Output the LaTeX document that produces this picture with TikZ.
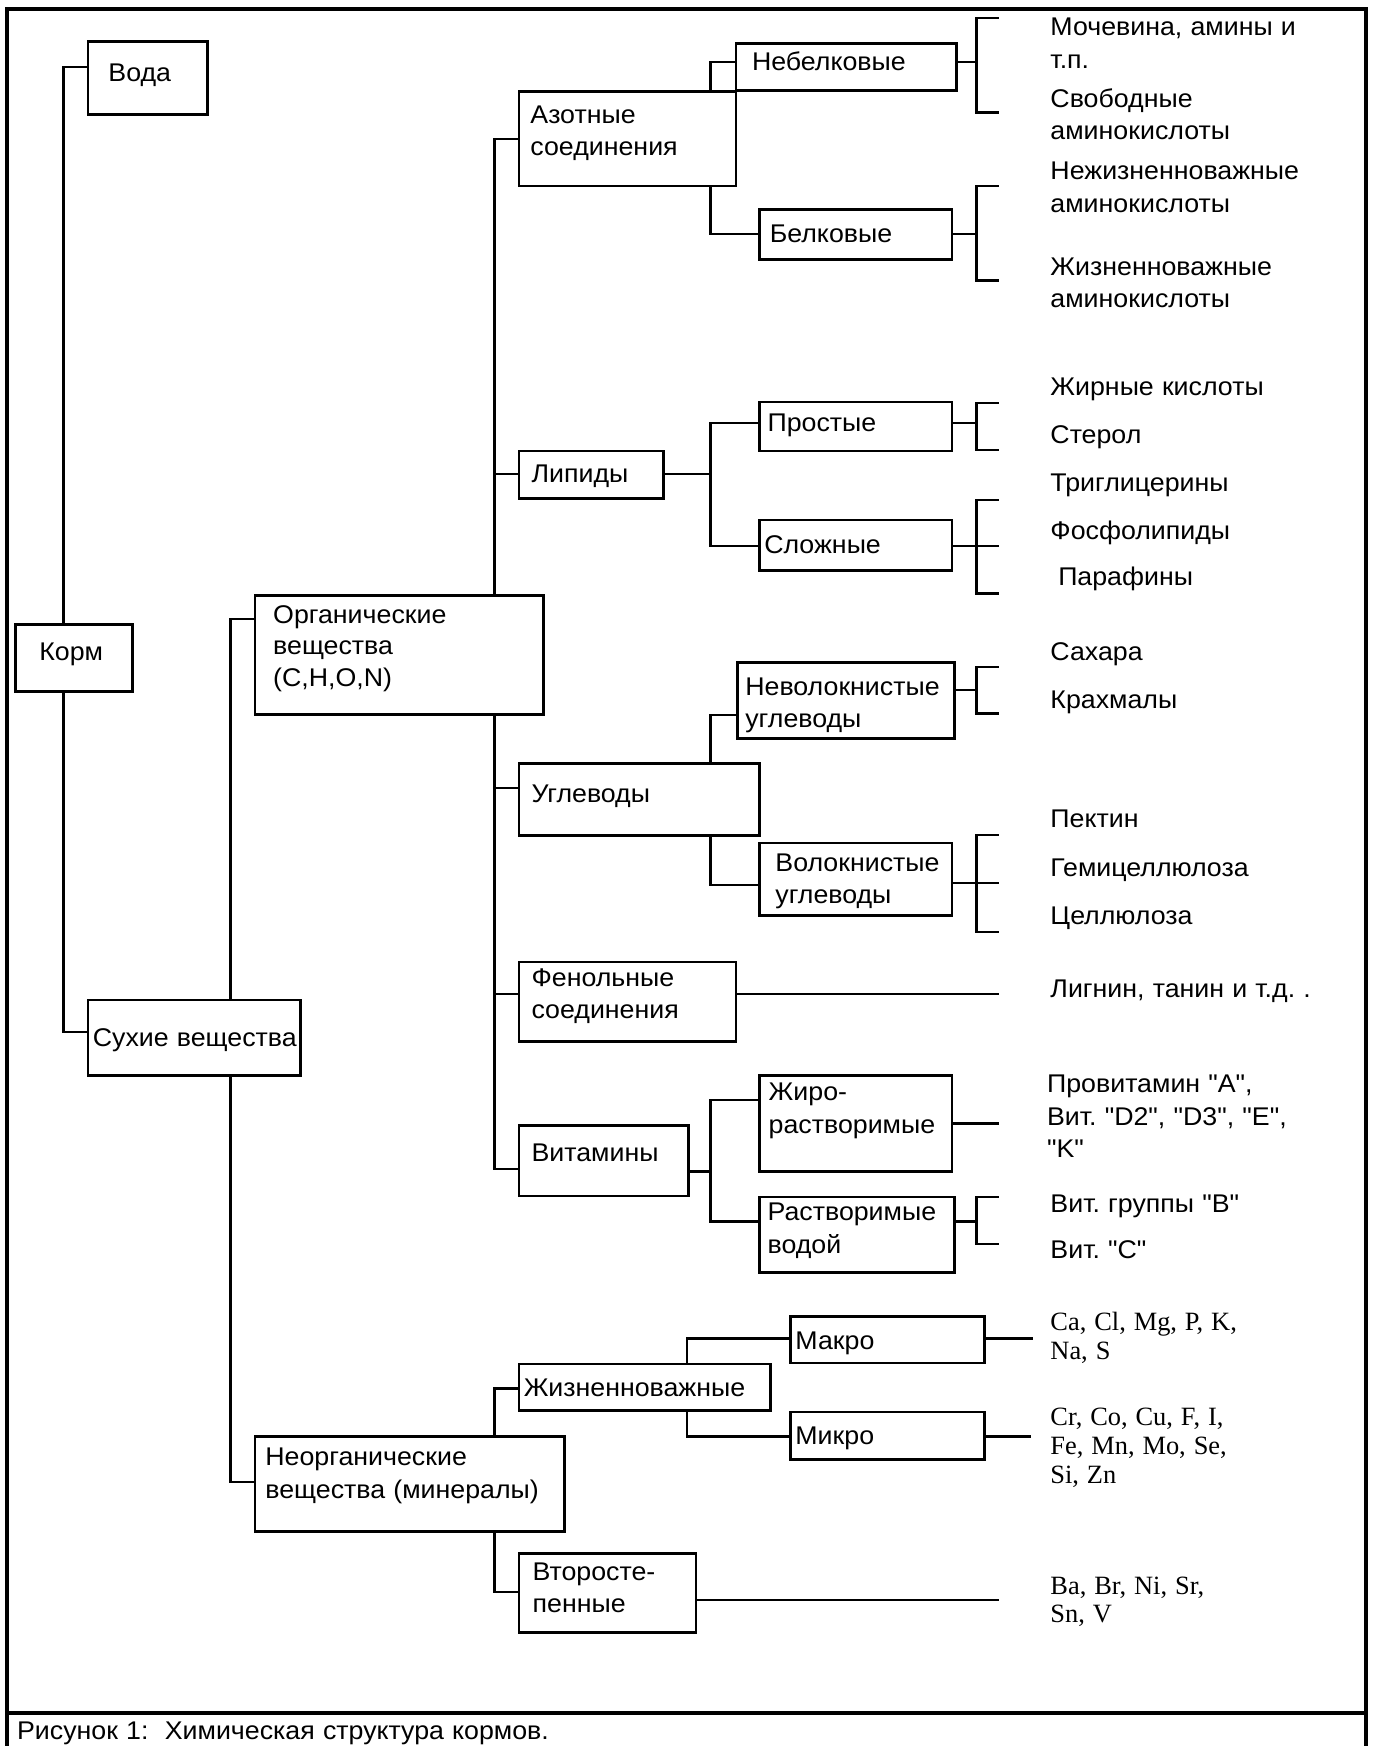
\documentclass[tikz,border=0pt]{standalone}
\usepackage{fontspec}
\setmainfont{Liberation Sans}[FakeStretch=1.045, WordSpace=1.1, Ligatures=TeXOff]
\newfontfamily\tmsfont{Liberation Serif}[WordSpace=1.2]
\usetikzlibrary{fit}
\frenchspacing
\newcommand\q{"}
\tikzset{
  x=0.55675pt, y=-0.55675pt,
  boxst/.style={draw, line width=1.4pt, inner sep=0pt},
  conn/.style={line width=1.1pt},
  brk/.style={line width=1.3pt},
  txt/.style={anchor=base west, inner sep=0pt, font=\frenchspacing\fontsize{12.8}{15}\selectfont},
  tmt/.style={anchor=base west, inner sep=0pt, font=\frenchspacing\tmsfont\fontsize{13.2}{15}\selectfont},
}
\newcommand\bx[5]{\node[boxst, fit={(#2,#3) (#4,#5)}] (#1) {};}
\newcommand\tx[4]{\node[txt] (#1) at (#2,#3+7.5) {#4};}
\newcommand\tm[4]{\node[tmt] (#1) at (#2,#3+6.5) {#4};}
\newcommand\bracketto[5]{%
  \draw[conn] (#1.east |- 0,#2) -- (#5,#2);
  \draw[brk] (897,#3) -- (877,#3) -- (877,#4) -- (897,#4);}
\begin{document}
\begin{tikzpicture}
\useasboundingbox (0,0) rectangle (1233,1568);
% frame
\draw[line width=1.6pt] (6.3,8.1) rectangle (1226.8,1590);
\draw[line width=1.6pt] (6.3,1538.4) -- (1226.8,1538.4);
\node[txt] (cap) at (15,1562) {Рисунок 1:\ \ Химическая структура кормов.};

% bus coordinates
\coordinate (busK) at (57,0);
\coordinate (busS) at (207,0);
\coordinate (busO) at (444,0);
\coordinate (busA) at (638,0);
\coordinate (busI) at (617,0);

% boxes
\bx{voda}{79}{37}{186}{103}
\bx{korm}{14}{561}{119}{621}
\bx{sux}{79}{898}{270}{966}
\bx{org}{229}{535}{488}{642}
\bx{neorg}{229}{1290}{507}{1375}
\bx{azot}{466}{82}{661}{167}
\bx{lip}{466}{405}{596}{448}
\bx{ugl}{466}{686}{682}{750}
\bx{fen}{466}{864}{661}{935}
\bx{vit}{466}{1011}{618}{1074}
\bx{nebel}{661}{39}{859}{81}
\bx{bel}{682}{188}{855}{233}
\bx{prost}{682}{361}{855}{405}
\bx{slozh}{682}{467}{855}{512}
\bx{nevol}{662}{595}{857}{663}
\bx{vol}{682}{757}{855}{822}
\bx{zhiro}{682}{966}{855}{1052}
\bx{rastv}{682}{1075}{857}{1143}
\bx{zhizn}{466}{1225}{692}{1267}
\bx{vtor}{466}{1395}{625}{1466}
\bx{makro}{710}{1182}{884}{1224}
\bx{mikro}{710}{1268}{884}{1311}

% box texts
\tx{tvoda}{97}{66}{Вода}
\tx{tkorm}{35}{586}{Корм}
\tx{tsux}{83}{932}{Сухие вещества}
\tx{torg1}{245}{552}{Органические}
\tx{torg2}{245}{580}{вещества}
\tx{torg3}{245}{609}{(C,H,O,N)}
\tx{tneorg1}{238}{1309}{Неорганические}
\tx{tneorg2}{238}{1338}{вещества (минералы)}
\tx{tazot1}{476}{103}{Азотные}
\tx{tazot2}{476}{132}{соединения}
\tx{tlip}{477}{426}{Липиды}
\tx{tugl}{477}{713}{Углеводы}
\tx{tfen1}{477}{878}{Фенольные}
\tx{tfen2}{477}{907}{соединения}
\tx{tvit}{477}{1036}{Витамины}
\tx{tnebel}{675}{56}{Небелковые}
\tx{tbel}{691}{210}{Белковые}
\tx{tprost}{689}{380}{Простые}
\tx{tslozh}{686}{490}{Сложные}
\tx{tnevol1}{669}{617}{Неволокнистые}
\tx{tnevol2}{669}{646}{углеводы}
\tx{tvol1}{696}{775}{Волокнистые}
\tx{tvol2}{696}{804}{углеводы}
\tx{tzhiro1}{690}{981}{Жиро-}
\tx{tzhiro2}{690}{1010}{растворимые}
\tx{trastv1}{689}{1089}{Растворимые}
\tx{trastv2}{689}{1118}{водой}
\tx{tzhizn}{470}{1247}{Жизненноважные}
\tx{tvtor1}{478}{1412}{Второсте-}
\tx{tvtor2}{478}{1441}{пенные}
\tx{tmakro}{714}{1204}{Макро}
\tx{tmikro}{714}{1290}{Микро}

% leaf texts
\tx{l1}{943}{24}{Мочевина, амины и}
\tx{l2}{943}{54}{т.п.}
\tx{l3}{943}{89}{Свободные}
\tx{l4}{943}{118}{аминокислоты}
\tx{l5}{943}{154}{Нежизненноважные}
\tx{l6}{943}{183}{аминокислоты}
\tx{l7}{943}{240}{Жизненноважные}
\tx{l8}{943}{269}{аминокислоты}
\tx{l9}{943}{348}{Жирные кислоты}
\tx{l10}{943}{391}{Стерол}
\tx{l11}{943}{434}{Триглицерины}
\tx{l12}{943}{477}{Фосфолипиды}
\tx{l13}{950}{518}{Парафины}
\tx{l14}{943}{586}{Сахара}
\tx{l15}{943}{629}{Крахмалы}
\tx{l16}{943}{736}{Пектин}
\tx{l17}{943}{780}{Гемицеллюлоза}
\tx{l18}{943}{823}{Целлюлоза}
\tx{l19}{943}{888}{Лигнин, танин и т.д. .}
\tx{l20}{940}{974}{Провитамин \q A\q,}
\tx{l21}{940}{1003}{Вит. \q D2\q, \q D3\q, \q E\q,}
\tx{l22}{940}{1032}{\q K\q}
\tx{l23}{943}{1081}{Вит. группы \q B\q}
\tx{l24}{943}{1123}{Вит. \q C\q}
\tm{m1}{943}{1188}{Ca, Cl, Mg, P, K,}
\tm{m2}{943}{1214}{Na, S}
\tm{m3}{943}{1274}{Cr, Co, Cu, F, I,}
\tm{m4}{943}{1300}{Fe, Mn, Mo, Se,}
\tm{m5}{943}{1326}{Si, Zn}
\tm{m6}{943}{1425}{Ba, Br, Ni, Sr,}
\tm{m7}{943}{1451}{Sn, V}

% connectors: main tree
\draw[conn] (voda.west |- 0,60) -| (korm.north -| busK);
\draw[conn] (korm.south -| busK) |- (sux.west |- 0,927);
\draw[conn] (sux.north -| busS) |- (org.west |- 0,556);
\draw[conn] (sux.south -| busS) |- (neorg.west |- 0,1331);
% organic trunk
\draw[conn] (org.north -| busO) |- (azot.west |- 0,125);
\draw[conn] (org.south -| busO) |- (vit.west |- 0,1050);
\draw[conn] (busO |- 0,426) -- (lip.west |- 0,426);
\draw[conn] (busO |- 0,708) -- (ugl.west |- 0,708);
\draw[conn] (busO |- 0,893) -- (fen.west |- 0,893);
% azot
\draw[conn] (azot.north -| busA) |- (nebel.west |- 0,56);
\draw[conn] (azot.south -| busA) |- (bel.west |- 0,210);
% lipids
\draw[conn] (lip.east |- 0,426) -- (busA |- 0,426);
\draw[conn] (prost.west |- 0,380) -| (busA |- 0,490) -- (slozh.west |- 0,490);
% carbs
\draw[conn] (ugl.north -| busA) |- (nevol.west |- 0,642);
\draw[conn] (ugl.south -| busA) |- (vol.west |- 0,795);
% phenols
\coordinate (fenend) at (897,893);
\draw[conn] (fen.east |- fenend) -- (fenend);
% vitamins
\draw[conn] (vit.east |- 0,1052) -- (busA |- 0,1052);
\draw[conn] (zhiro.west |- 0,988) -| (busA |- 0,1097) -- (rastv.west |- 0,1097);
\coordinate (zhend) at (897,1009);
\draw[conn] (zhiro.east |- zhend) -- (zhend);
% brackets
\bracketto{nebel}{56}{16}{101}{877}
\bracketto{bel}{210}{167}{252}{877}
\bracketto{prost}{380}{362}{404}{877}
\bracketto{slozh}{490}{449}{533}{897}
\bracketto{nevol}{620}{599}{641}{877}
\bracketto{vol}{793}{750}{837}{897}
\bracketto{rastv}{1097}{1075}{1117}{877}
% inorganic
\draw[conn] (neorg.north -| busO) |- (zhizn.west |- 0,1247);
\draw[conn] (neorg.south -| busO) |- (vtor.west |- 0,1430);
\draw[conn] (zhizn.north -| busI) |- (makro.west |- 0,1202);
\draw[conn] (zhizn.south -| busI) |- (mikro.west |- 0,1290);
\coordinate (maend) at (928,1202);
\coordinate (miend) at (926,1290);
\coordinate (vtend) at (897,1437);
\draw[conn] (makro.east |- maend) -- (maend);
\draw[conn] (mikro.east |- miend) -- (miend);
\draw[conn] (vtor.east |- vtend) -- (vtend);
\end{tikzpicture}
\end{document}
